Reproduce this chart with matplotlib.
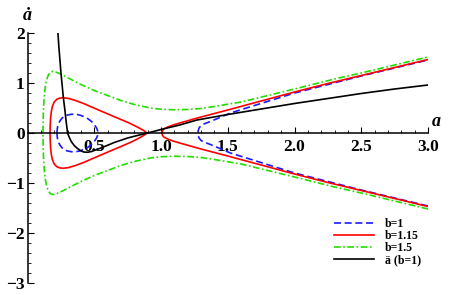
import numpy as np
import matplotlib
matplotlib.use("Agg")
import matplotlib.pyplot as plt
from matplotlib.ticker import MultipleLocator

plt.rcParams['font.family'] = ['Liberation Serif', 'DejaVu Serif']
plt.rcParams['font.weight'] = 'bold'

# ---- data (upper branches; curves are symmetric in a-dot) ----
blue_loop_a = [0.221, 0.222, 0.226, 0.233, 0.245, 0.26, 0.28, 0.30, 0.33, 0.36, 0.39, 0.42, 0.45, 0.48, 0.50, 0.515, 0.524, 0.528]
blue_loop_v = [0.0, 0.06, 0.13, 0.19, 0.25, 0.30, 0.34, 0.36, 0.375, 0.375, 0.36, 0.33, 0.29, 0.23, 0.17, 0.11, 0.06, 0.0]
blue_out_a = [1.277, 1.279, 1.285, 1.30, 1.33, 1.37, 1.45, 1.52, 1.64, 1.76, 2.0, 2.25, 2.5, 2.75, 3.0]
blue_out_v = [0.0, 0.05, 0.10, 0.15, 0.19, 0.23, 0.32, 0.40, 0.50, 0.60, 0.80, 0.97, 1.14, 1.30, 1.46]

red_loop_a = [0.169, 0.170, 0.173, 0.178, 0.186, 0.20, 0.22, 0.245, 0.27, 0.31, 0.36, 0.42, 0.48, 0.55, 0.62, 0.70, 0.77, 0.83, 0.87, 0.895]
red_loop_v = [0.0, 0.15, 0.30, 0.42, 0.53, 0.62, 0.675, 0.70, 0.705, 0.69, 0.65, 0.59, 0.52, 0.44, 0.36, 0.27, 0.19, 0.11, 0.05, 0.0]
red_out_a = [1.007, 1.01, 1.02, 1.05, 1.09, 1.14, 1.22, 1.30, 1.40, 1.50, 1.75, 2.0, 2.25, 2.5, 2.75, 3.0]
red_out_v = [0.0, 0.04, 0.08, 0.12, 0.16, 0.20, 0.26, 0.32, 0.39, 0.46, 0.64, 0.82, 0.99, 1.15, 1.31, 1.47]

green_a = [0.116, 0.1165, 0.118, 0.121, 0.126, 0.133, 0.143, 0.156, 0.17, 0.185, 0.205, 0.23, 0.27, 0.32, 0.40, 0.50, 0.60, 0.70, 0.80, 0.92, 1.00, 1.10, 1.20, 1.30, 1.40, 1.60, 1.80, 2.00, 2.12, 2.30, 2.50, 2.75, 3.0]
green_v = [0.0, 0.15, 0.35, 0.55, 0.75, 0.92, 1.06, 1.16, 1.21, 1.23, 1.225, 1.20, 1.15, 1.08, 0.97, 0.85, 0.75, 0.65, 0.57, 0.50, 0.475, 0.465, 0.47, 0.49, 0.53, 0.62, 0.75, 0.88, 0.96, 1.08, 1.20, 1.36, 1.52]

black_a = [0.228, 0.235, 0.243, 0.25, 0.258, 0.268, 0.28, 0.29, 0.30, 0.315, 0.33, 0.35, 0.37, 0.395, 0.42, 0.45, 0.48, 0.52, 0.56, 0.65, 0.75, 0.83, 0.90, 1.00, 1.14, 1.27, 1.50, 1.75, 2.00, 2.25, 2.50, 2.75, 3.0]
black_v = [2.0, 1.72, 1.46, 1.22, 1.0, 0.72, 0.46, 0.22, 0.0, -0.10, -0.18, -0.25, -0.30, -0.35, -0.38, -0.385, -0.37, -0.33, -0.29, -0.19, -0.10, -0.045, 0.0, 0.07, 0.16, 0.26, 0.37, 0.48, 0.59, 0.69, 0.79, 0.88, 0.96]

labels = ['b=1', 'b=1.15', 'b=1.5', 'ä (b=1)']
xticks = [0.5, 1.0, 1.5, 2.0, 2.5, 3.0]
yticks = [-3, -2, -1, 0, 1, 2]


def closed(a, v):
    a = np.asarray(a); v = np.asarray(v)
    return np.concatenate([a, a[::-1]]), np.concatenate([v, -v[::-1]])


def open_branch(a, v):
    a = np.asarray(a); v = np.asarray(v)
    return np.concatenate([a[::-1], a]), np.concatenate([-v[::-1], v])


fig = plt.figure(figsize=(4.49, 2.95), dpi=100)
ax = fig.add_axes([27.5 / 449, 12 / 295, 400.5 / 449, 250 / 295])

lw = 1.2
blue_kw = dict(color='#1a1aff', lw=lw, ls=(0, (4.2, 2.2)))
red_kw = dict(color='#ff0000', lw=lw, ls='-')
green_kw = dict(color='#22dd00', lw=lw, ls=(0, (4, 1.5, 1, 1.5)))
black_kw = dict(color='black', lw=lw, ls='-')

x, y = closed(blue_loop_a, blue_loop_v)
hb, = ax.plot(x, y, **blue_kw)
x, y = open_branch(blue_out_a, blue_out_v)
ax.plot(x, y, **blue_kw)

x, y = closed(red_loop_a, red_loop_v)
hr, = ax.plot(x, y, **red_kw)
x, y = open_branch(red_out_a, red_out_v)
ax.plot(x, y, **red_kw)

x, y = open_branch(green_a, green_v)
hg, = ax.plot(x, y, **green_kw)

hk, = ax.plot(black_a, black_v, **black_kw)

ax.set_xlim(0, 3.0)
ax.set_ylim(-3, 2)
for s in ['top', 'right']:
    ax.spines[s].set_visible(False)
ax.spines['left'].set_position(('data', 0))
ax.spines['bottom'].set_position(('data', 0))
ax.spines['left'].set_linewidth(1.1)
ax.spines['bottom'].set_linewidth(1.1)

ax.set_xticks(xticks)
ax.set_xticklabels([f'{t:.1f}' for t in xticks])
ax.set_yticks(yticks)
ax.set_yticklabels([str(t).replace('-', '\u2212') for t in yticks])
ax.xaxis.set_minor_locator(MultipleLocator(0.1))
ax.yaxis.set_minor_locator(MultipleLocator(0.2))
ax.tick_params(which='major', direction='in', length=4, width=0.8, labelsize=12.5, pad=2)
ax.tick_params(which='minor', direction='in', length=2.2, width=0.6)
ax.tick_params(axis='x', pad=4)
for t in ax.get_xticklabels() + ax.get_yticklabels():
    t.set_fontweight('bold')

ax.text(3.03, 0.06, 'a', fontsize=13, fontweight='bold', style='italic', ha='left', va='bottom', clip_on=False)
ax.text(0.0, 2.17, '\u0227', fontsize=13, fontweight='bold', style='italic', ha='center', va='bottom', clip_on=False)

leg = ax.legend([hb, hr, hg, hk], labels, loc='lower left', bbox_to_anchor=(0.765, 0.066),
                frameon=False, fontsize=8.5, handlelength=3.4, handletextpad=0.9,
                labelspacing=0.02, borderpad=0, borderaxespad=0)
for t in leg.get_texts():
    t.set_fontweight('bold')

fig.savefig('out.png', dpi=100)
